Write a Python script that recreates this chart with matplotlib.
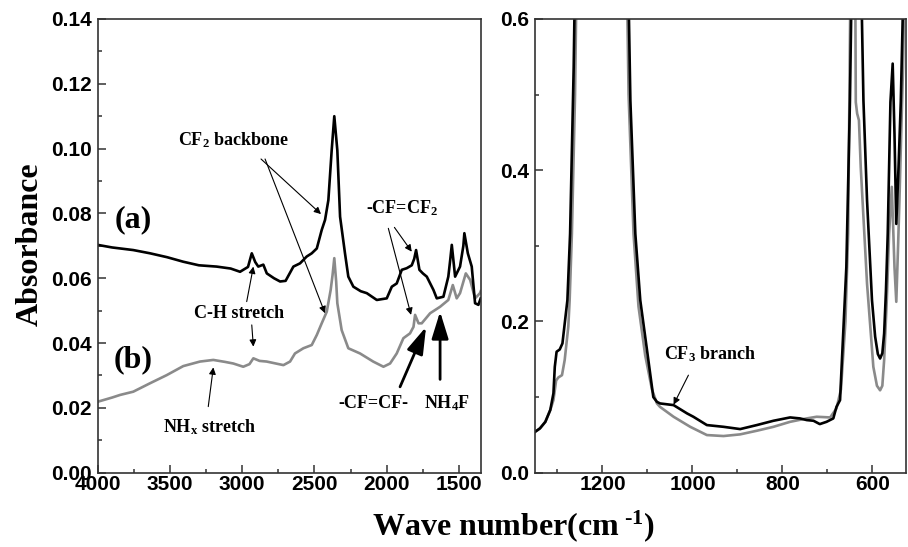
import numpy as np
import matplotlib
matplotlib.use('Agg')
import matplotlib.pyplot as plt
from matplotlib.ticker import MultipleLocator

plt.rcParams['mathtext.fontset'] = 'custom'
plt.rcParams['mathtext.rm'] = 'Liberation Serif:bold'
plt.rcParams['mathtext.it'] = 'Liberation Serif:bold'
plt.rcParams['mathtext.bf'] = 'Liberation Serif:bold'

########## Data ##########
# left panel, sample (a) - black
wn_a_left = [4000, 3900, 3754, 3638, 3520, 3408, 3300, 3177, 3080, 3015,
             2960, 2934, 2910, 2889, 2854, 2830, 2780, 2738, 2700, 2646,
             2600, 2554, 2519, 2484, 2450, 2427, 2404, 2381, 2363, 2342,
             2323, 2289, 2266, 2231, 2180, 2138, 2069, 2000, 1965, 1931,
             1896, 1862, 1827, 1810, 1797, 1774, 1750, 1723, 1677, 1654,
             1608, 1574, 1560, 1550, 1527, 1493, 1470, 1463, 1439, 1412,
             1389, 1366, 1350]
abs_a_left = [0.0703, 0.0695, 0.0687, 0.0677, 0.0665, 0.0651, 0.0640, 0.0636, 0.0630, 0.0620,
              0.0635, 0.0677, 0.0650, 0.0636, 0.0642, 0.0615, 0.0600, 0.0590, 0.0592, 0.0636,
              0.0646, 0.0667, 0.0677, 0.0692, 0.0749, 0.0780, 0.0841, 0.0995, 0.1100, 0.0995,
              0.0790, 0.0677, 0.0605, 0.0574, 0.0560, 0.0554, 0.0533, 0.0538, 0.0574, 0.0584,
              0.0626, 0.0631, 0.0640, 0.0660, 0.0687, 0.0626, 0.0615, 0.0605, 0.0564, 0.0538,
              0.0543, 0.0605, 0.0660, 0.0703, 0.0605, 0.0636, 0.0700, 0.0739, 0.0677, 0.0636,
              0.0523, 0.0518, 0.0538]

# left panel, sample (b) - grey
wn_b_left = [4000, 3900, 3845, 3754, 3638, 3523, 3408, 3292, 3200, 3120,
             3062, 2993, 2950, 2923, 2880, 2831, 2715, 2669, 2635, 2577,
             2519, 2484, 2450, 2415, 2388, 2375, 2363, 2350, 2342, 2312,
             2266, 2185, 2094, 2023, 1977, 1931, 1885, 1839, 1815, 1804,
             1780, 1758, 1700, 1631, 1574, 1543, 1516, 1493, 1453, 1423,
             1389, 1355, 1350]
abs_b_left = [0.0219, 0.0232, 0.0240, 0.0250, 0.0276, 0.0301, 0.0329, 0.0343, 0.0348, 0.0342,
              0.0337, 0.0327, 0.0335, 0.0353, 0.0345, 0.0343, 0.0332, 0.0343, 0.0368, 0.0384,
              0.0394, 0.0425, 0.0461, 0.0497, 0.0564, 0.0610, 0.0662, 0.0590, 0.0523, 0.0440,
              0.0384, 0.0368, 0.0343, 0.0327, 0.0337, 0.0368, 0.0415, 0.0430, 0.0450, 0.0487,
              0.0461, 0.0461, 0.0492, 0.0512, 0.0533, 0.0579, 0.0538, 0.0554, 0.0615, 0.0595,
              0.0538, 0.0554, 0.0560]

# right panel, sample (a) - black (values above 0.6 run off the top)
wn_a_right = [1350, 1339, 1327, 1316, 1309, 1306, 1302, 1295, 1289, 1284,
              1278, 1272, 1264, 1255, 1200, 1150, 1138, 1127, 1116, 1101,
              1087, 1079, 1072, 1042, 1012, 998, 968, 931, 894, 857,
              820, 783, 761, 746, 731, 717, 702, 687, 680, 672,
              658, 650, 640, 630, 624, 620, 612, 601, 594, 588,
              583, 578, 574, 570, 566, 560, 555, 551, 547, 542,
              537, 532, 525]
abs_a_right = [0.054, 0.0586, 0.0673, 0.083, 0.105, 0.14, 0.16, 0.163, 0.171, 0.197,
               0.228, 0.316, 0.536, 0.9, 2.0, 0.9, 0.492, 0.316, 0.228, 0.162,
               0.100, 0.0937, 0.0916, 0.0894, 0.0784, 0.074, 0.063, 0.0607, 0.0577, 0.063,
               0.0687, 0.0731, 0.0718, 0.0696, 0.0687, 0.0643, 0.0673, 0.0718, 0.087, 0.096,
               0.272, 0.492, 0.9, 0.9, 0.62, 0.492, 0.36, 0.228, 0.18, 0.157,
               0.151, 0.158, 0.184, 0.24, 0.316, 0.49, 0.541, 0.448, 0.329, 0.404,
               0.49, 0.62, 0.9]

# right panel, sample (b) - grey
wn_b_right = [1350, 1339, 1327, 1316, 1309, 1303, 1298, 1290, 1284, 1276,
              1273, 1268, 1261, 1252, 1200, 1152, 1142, 1131, 1120, 1105,
              1090, 1079, 1072, 1042, 1005, 968, 931, 894, 857, 820,
              783, 746, 724, 694, 680, 670, 660, 654, 645, 640,
              637, 634, 630, 626, 612, 598, 590, 583, 578, 574,
              568, 563, 557, 551, 547, 543, 540, 536, 532, 525]
abs_b_right = [0.054, 0.0586, 0.0673, 0.083, 0.096, 0.122, 0.126, 0.129, 0.149, 0.193,
               0.228, 0.316, 0.5, 0.9, 2.0, 0.9, 0.5, 0.316, 0.22, 0.155,
               0.11, 0.0916, 0.087, 0.074, 0.0607, 0.0498, 0.0485, 0.0507, 0.0555, 0.0607,
               0.0673, 0.0718, 0.074, 0.0731, 0.085, 0.11, 0.2, 0.316, 0.9, 0.9,
               0.49, 0.475, 0.466, 0.404, 0.25, 0.14, 0.115, 0.109, 0.115, 0.149,
               0.23, 0.316, 0.378, 0.272, 0.226, 0.3, 0.36, 0.45, 0.536, 0.8]

########## Style ##########
black = 'black'
grey = '#8a8a8a'
lw = 1.9
serif = 'Liberation Serif'
sans = 'Liberation Sans'
spine_c = '#333333'


def style_axis(ax):
    for s in ax.spines.values():
        s.set_color(spine_c)
        s.set_linewidth(1.2)
    ax.tick_params(which='both', direction='in', top=False, right=False, color=spine_c, width=1.1)
    ax.tick_params(which='major', length=6)
    ax.tick_params(which='minor', length=3)
    ax.tick_params(axis='y', pad=4)
    ax.tick_params(axis='x', pad=2)
    for lab in ax.get_xticklabels() + ax.get_yticklabels():
        lab.set_fontfamily(sans)
        lab.set_fontweight('bold')
        lab.set_fontsize(15)


fig = plt.figure(figsize=(9.08, 5.47), dpi=100)
ax1 = fig.add_axes([0.1076, 0.1358, 0.4218, 0.8295])
ax2 = fig.add_axes([0.5892, 0.1358, 0.4088, 0.8295])

########## Left panel ##########
ax1.plot(wn_b_left, abs_b_left, color=grey, lw=lw)
ax1.plot(wn_a_left, abs_a_left, color=black, lw=lw)
ax1.set_xlim(4000, 1350)
ax1.set_ylim(0, 0.14)
ax1.xaxis.set_major_locator(MultipleLocator(500))
ax1.xaxis.set_minor_locator(MultipleLocator(250))
ax1.yaxis.set_major_locator(MultipleLocator(0.02))
ax1.yaxis.set_minor_locator(MultipleLocator(0.01))
ax1.yaxis.set_major_formatter(matplotlib.ticker.FormatStrFormatter('%.2f'))
style_axis(ax1)

txt = dict(fontfamily=serif, fontweight='bold', ha='center', va='center')
thin = dict(arrowstyle='-|>', color='black', lw=0.8, mutation_scale=10, shrinkA=0, shrinkB=0)
thick = dict(arrowstyle='-|>,head_length=0.55,head_width=0.17', color='black', lw=2.0,
             mutation_scale=30, shrinkA=0, shrinkB=0)

ax1.text(3754, 0.078, '(a)', fontsize=23, **txt)
ax1.text(3754, 0.0348, '(b)', fontsize=23, **txt)

ax1.text(3062, 0.1025, r'CF$_2$ backbone', fontsize=13, **txt)
ax1.annotate('', xy=(2455, 0.0798), xytext=(2870, 0.0968), arrowprops=thin)
ax1.annotate('', xy=(2427, 0.0492), xytext=(2842, 0.0968), arrowprops=thin)

ax1.text(1896, 0.0816, r'-CF=CF$_2$', fontsize=13, **txt)
ax1.annotate('', xy=(1827, 0.0682), xytext=(1947, 0.0757), arrowprops=thin)
ax1.annotate('', xy=(1832, 0.0487), xytext=(1989, 0.0754), arrowprops=thin)

ax1.text(3020, 0.0492, 'C-H stretch', fontsize=13, **txt)
ax1.annotate('', xy=(2923, 0.0636), xytext=(2969, 0.0528), arrowprops=thin)
ax1.annotate('', xy=(2923, 0.0389), xytext=(2934, 0.0456), arrowprops=thin)

ax1.text(3223, 0.0142, r'NH$_x$ stretch', fontsize=13, **txt)
ax1.annotate('', xy=(3200, 0.0325), xytext=(3235, 0.0204), arrowprops=thin)

ax1.text(2093, 0.0214, '-CF=CF-', fontsize=13, **txt)
ax1.annotate('', xy=(1728, 0.045), xytext=(1908, 0.0265), arrowprops=thick)

ax1.text(1585, 0.0214, r'NH$_4$F', fontsize=13, **txt)
ax1.annotate('', xy=(1631, 0.0497), xytext=(1631, 0.0288), arrowprops=thick)

########## Right panel ##########
ax2.plot(wn_b_right, abs_b_right, color=grey, lw=lw)
ax2.plot(wn_a_right, abs_a_right, color=black, lw=lw)
ax2.set_xlim(1350, 525)
ax2.set_ylim(0, 0.6)
ax2.xaxis.set_major_locator(MultipleLocator(200))
ax2.xaxis.set_minor_locator(MultipleLocator(100))
ax2.yaxis.set_major_locator(MultipleLocator(0.2))
ax2.yaxis.set_minor_locator(MultipleLocator(0.1))
ax2.yaxis.set_major_formatter(matplotlib.ticker.FormatStrFormatter('%.1f'))
style_axis(ax2)

ax2.text(961, 0.157, r'CF$_3$ branch', fontsize=13, **txt)
ax2.annotate('', xy=(1042, 0.090), xytext=(1009, 0.129), arrowprops=thin)

########## Axis titles ##########
fig.text(0.033, 0.554, 'Absorbance', rotation=90, fontsize=23, **txt)
fig.text(0.565, 0.038, r'Wave number(cm$^{\text{ -1}}$)', fontsize=23, **txt)

fig.savefig('out.png', dpi=100)
